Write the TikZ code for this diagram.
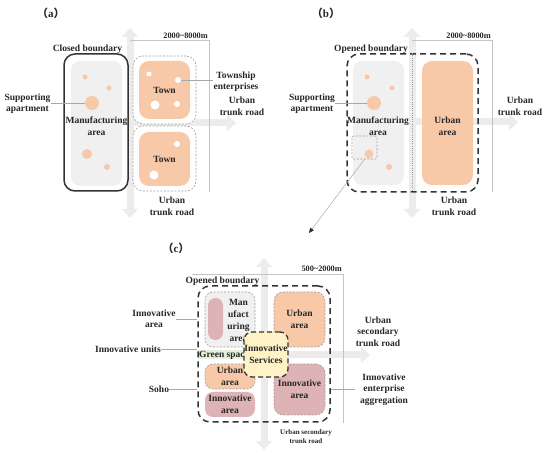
\documentclass[tikz,border=0pt]{standalone}
\usepackage{fontspec}
\setmainfont{Liberation Serif}
\newfontfamily\cjk{Noto Sans CJK SC}
\usetikzlibrary{arrows.meta}
\definecolor{orangef}{HTML}{F7C9A9}
\definecolor{grayf}{HTML}{F0F0F0}
\definecolor{pinkf}{HTML}{DDB3B6}
\definecolor{yellowf}{HTML}{FEF2C6}
\definecolor{greenf}{HTML}{E3F0DA}
\definecolor{roadc}{HTML}{ECECEC}
\definecolor{dimc}{HTML}{C4C4C4}
\definecolor{leadc}{HTML}{A8A8A8}
\definecolor{bndc}{HTML}{333333}
\definecolor{gdashc}{HTML}{A0A0A0}
\definecolor{txtc}{HTML}{262626}
\tikzset{
  txt/.style={font=\fontsize{9.5}{11.5}\selectfont\bfseries, text=txtc, align=center, inner sep=0pt},
  small/.style={font=\fontsize{8.3}{10}\selectfont\bfseries, text=txtc, inner sep=0pt},
  tiny/.style={font=\fontsize{7}{9}\selectfont\bfseries, text=txtc, align=center, inner sep=0pt},
  panel/.style={font=\fontsize{11}{13}\selectfont\bfseries, text=txtc, inner sep=0pt},
  road/.style={draw=roadc, line width=7pt, arrows={Triangle[length=9pt,width=16pt]-Triangle[length=9pt,width=16pt]}},
  roadr/.style={draw=roadc, line width=7pt, arrows={-Triangle[length=9pt,width=16pt]}},
  dim/.style={draw=dimc, line width=0.6pt},
  leader/.style={draw=leadc, line width=0.5pt},
  dot/.style={circle, fill=orangef, inner sep=0pt, minimum size=#1},
  wdot/.style={circle, fill=white, inner sep=0pt, minimum size=#1},
  solidbnd/.style={draw=bndc, line width=1.5pt, rounded corners=11pt, fill=white, inner sep=0pt},
  dashbnd/.style={draw=bndc, line width=1.5pt, dash pattern=on 6pt off 4pt, rounded corners=12pt, inner sep=0pt},
  gdash/.style={draw=gdashc, line width=0.6pt, dash pattern=on 2pt off 1.5pt},
  zone/.style={txt, rounded corners=#1},
}
\begin{document}
\begin{tikzpicture}[x=1pt,y=-1pt]
\useasboundingbox (0,0) rectangle (550,454);

% ================= (a) =================
\node[panel] (pa) at (51,13) {{\cjk （}a{\cjk ）}};
\coordinate (aRt) at (130,28); \coordinate (aRb) at (130,218);
\coordinate (aRl) at (130,123); \coordinate (aRr) at (236,123);
\draw[road] (aRt) -- (aRb);
\draw[roadr] (aRl) -- (aRr);
\coordinate (aD1) at (130,40); \coordinate (aD2) at (209,40); \coordinate (aD3) at (209,192);
\draw[dim] (aD1) -- (aD2) -- (aD3);
\node[small, anchor=east] (aDim) at (208,35.5) {2000\textasciitilde8000m};

\node[solidbnd, minimum width=64, minimum height=137] (bndA) at (96,122.5) {};
\node[txt] (bndAl) at (87.5,49) {Closed boundary};
\node[zone=9pt, fill=grayf, minimum width=51, minimum height=125] (mfgA) at (96.5,123.5) {};
\node[txt] (mfgAt) at (96.5,126) {Manufacturing\\area};
\node[dot=5] (aC1) at (85,77) {};
\node[dot=5] (aC2) at (109,88) {};
\node[dot=14] (aC3) at (92,103) {};
\node[dot=10] (aC4) at (87,154) {};
\node[dot=6] (aC5) at (107,167) {};
\node[txt] (supA) at (27.5,103.5) {Supporting\\apartment};
\draw[leader] (aC3.west) -- (aC3.west -| supA.east);

\node[gdash, fill=white, rounded corners=10pt, minimum width=63, minimum height=68] (twnA1o) at (164.5,90) {};
\node[zone=10pt, fill=orangef, minimum width=51, minimum height=58] (twnA1) at (164.5,90) {Town};
\node[gdash, fill=white, rounded corners=10pt, minimum width=63, minimum height=65] (twnA2o) at (164.5,158.5) {};
\node[zone=10pt, fill=orangef, minimum width=51, minimum height=54] (twnA2) at (164.5,159) {Town};
\node[wdot=5] (aW1) at (149,74) {};
\node[wdot=6] (aW2) at (178,80) {};
\node[wdot=9] (aW3) at (155,105) {};
\node[wdot=6] (aW4) at (177,104) {};
\node[wdot=6] (aW5) at (177,144) {};
\node[wdot=9] (aW6) at (154,175) {};
\node[txt] (twpA) at (236,81.5) {Township\\enterprises};
\draw[leader] (aW2.east) -- (aW2.east -| twpA.west);
\node[txt] (aUr) at (242,106.5) {Urban\\trunk road};
\node[txt] (aUb) at (172,206.5) {Urban\\trunk road};

% ================= (b) =================
\node[panel] (pb) at (326,13) {{\cjk （}b{\cjk ）}};
\coordinate (bRt) at (412,28); \coordinate (bRb) at (412,218);
\coordinate (bRl) at (412,122); \coordinate (bRr) at (518,122);
\draw[road] (bRt) -- (bRb);
\draw[roadr] (bRl) -- (bRr);
\coordinate (bD1) at (412,40); \coordinate (bD2) at (492,40); \coordinate (bD3) at (492,192);
\draw[dim] (bD1) -- (bD2) -- (bD3);
\node[small, anchor=east] (bDim) at (491,35.5) {2000\textasciitilde8000m};

\node[zone=9pt, fill=grayf, minimum width=51, minimum height=124] (mfgB) at (378.5,123) {};
\node[zone=10pt, fill=orangef, minimum width=51, minimum height=124] (urbB) at (447.5,123) {};
\node[txt] (urbBt) at (447.5,126.5) {Urban\\area};
\node[dashbnd, minimum width=131, minimum height=138] (bndB) at (412.5,123) {};
\draw[gdash, dash pattern=on 1pt off 1.2pt] (bndB.north) -- (bndB.south);
\node[txt] (bndBl) at (371,49) {Opened boundary};
\node[txt] (mfgBt) at (378,126) {Manufacturing\\area};
\node[dot=5] (bC1) at (367,77) {};
\node[dot=5] (bC2) at (392,88) {};
\node[dot=14] (bC3) at (374,103) {};
\node[dot=9] (bC4) at (369,154) {};
\node[dot=6] (bC5) at (389,167) {};
\node[gdash, rounded corners=2pt, minimum width=25, minimum height=23] (sbox) at (364.5,147.5) {};
\node[txt] (supB) at (312,103.5) {Supporting\\apartment};
\draw[leader] (bC3.west) -- (bC3.west -| supB.east);
\node[txt] (bUr) at (520,106.5) {Urban\\trunk road};
\node[txt] (bUb) at (454,206.5) {Urban\\trunk road};
\coordinate (arrEnd) at (309,233);
\draw[leader, -{Triangle[length=5pt,width=4.5pt,color=bndc]}] (sbox.south) -- (arrEnd);

% ================= (c) =================
\node[panel] (pc) at (176,248) {{\cjk （}c{\cjk ）}};
\coordinate (cRt) at (264,258); \coordinate (cRb) at (264,450);
\coordinate (cRl) at (264,355); \coordinate (cRr) at (370,355);
\draw[road] (cRt) -- (cRb);
\draw[roadr] (cRl) -- (cRr);
\coordinate (cD1) at (192,274); \coordinate (cD2) at (343,274); \coordinate (cD3) at (343,423);
\draw[dim] (cD1) -- (cD2) -- (cD3);
\node[small, anchor=east] (cDim) at (342,269) {500\textasciitilde2000m};

\node[zone=8pt, gdash, fill=grayf, minimum width=50, minimum height=55] (mfgC) at (230,319.5) {};
\node[rounded corners=7.5pt, fill=pinkf, inner sep=0pt, minimum width=15, minimum height=42] (pill) at (215.5,319) {};
\node[txt, font=\fontsize{9.5}{12}\selectfont\bfseries] (mfgCt) at (238.5,320) {Man\\ufact\\uring\\area};
\node[zone=9pt, gdash, fill=orangef, minimum width=51, minimum height=55] (urbC1) at (299.5,319.5) {Urban\\area};
\node[fill=greenf, inner sep=0pt, minimum width=48, minimum height=9] (grn) at (222,355) {};
\node[txt, anchor=west] (grnt) at (199,355.5) {Green space};
\node[zone=8pt, gdash, fill=orangef, minimum width=50, minimum height=25] (urbC2) at (230,376.5) {Urban\\area};
\node[zone=8pt, fill=pinkf, minimum width=50, minimum height=25] (innC1) at (230,404.5) {Innovative\\area};
\node[zone=9pt, gdash, fill=pinkf, minimum width=51, minimum height=51] (innC2) at (299.5,389.5) {Innovative\\area};
\node[zone=8pt, draw=bndc, line width=1.3pt, dash pattern=on 5pt off 3pt, fill=yellowf, minimum width=44, minimum height=45] (srv) at (266,354.5) {Innovative\\Services};
\node[dashbnd, minimum width=132, minimum height=136] (bndC) at (264,354) {};
\node[txt] (bndCl) at (222.5,281) {Opened boundary};

\node[txt] (cIa) at (154,319) {Innovative\\area};
\draw[leader] (cIa.east) -- (cIa.east -| bndC.west);
\node[txt] (cIu) at (128,349) {Innovative units};
\draw[leader] (cIu.east) -- (cIu.east -| bndC.west);
\node[txt] (cSo) at (159,389) {Soho};
\draw[leader] (cSo.east) -- (cSo.east -| bndC.west);
\node[txt] (cUr) at (378,331.5) {Urban\\secondary\\trunk road};
\node[txt] (cIe) at (384,389.5) {Innovative\\enterprise\\aggregation};
\coordinate (cIeL) at (355,389);
\draw[leader] (cIeL -| bndC.east) -- (cIeL);
\node[tiny] (cUb) at (306,436.5) {Urban secondary\\trunk road};
\end{tikzpicture}
\end{document}
